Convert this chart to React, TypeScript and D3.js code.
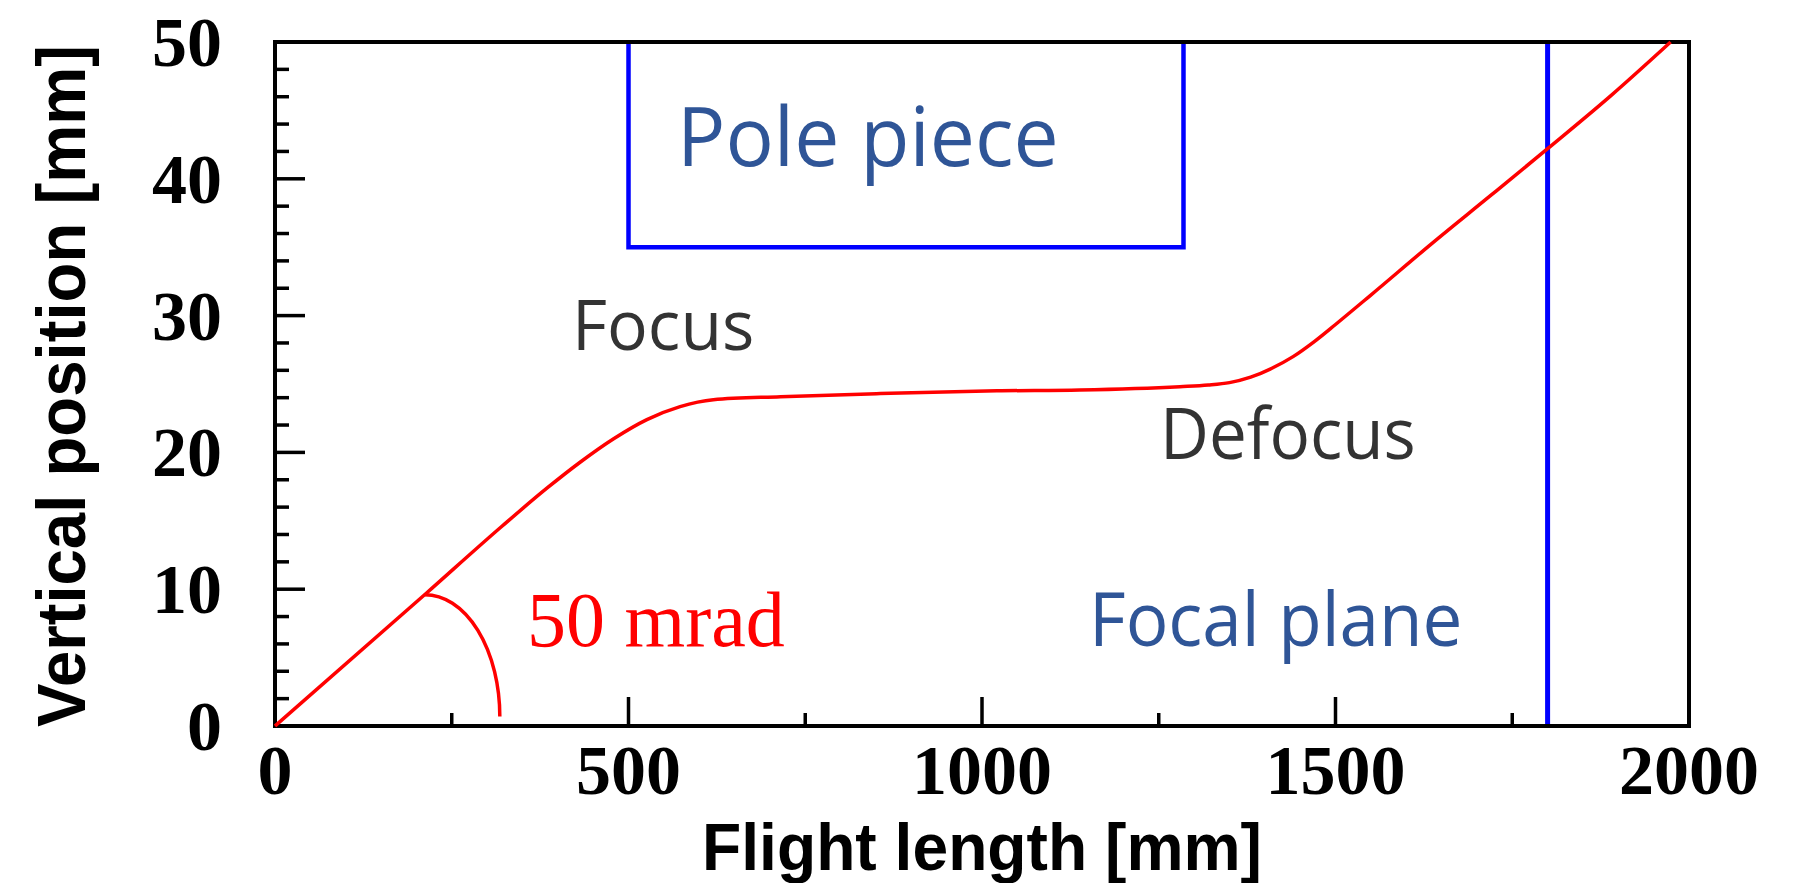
import React from "react";
import * as d3 from "d3";

// Beam trajectory through the pole piece: flight length [mm] vs vertical position [mm]
const flightLength = [0, 214, 321, 385, 432, 479, 526, 573, 620, 715, 856, 1021, 1138, 1280, 1320, 1350, 1380, 1410, 1440, 1470, 1500, 1550, 1637, 1720, 1800, 1890, 1974];
const verticalPos = [0, 9.7, 14.6, 17.4, 19.3, 21.0, 22.4, 23.35, 23.85, 24.07, 24.3, 24.5, 24.56, 24.8, 24.92, 25.1, 25.5, 26.15, 27.0, 28.1, 29.35, 31.5, 35.3, 38.8, 42.2, 46.1, 50.0];

// Pole piece outline [x0, x1] and its lower edge, focal plane position
const polePieceX = [500, 1285];
const polePieceBottom = 35;
const focalPlaneX = 1800;

// Angle marker: starts on the trajectory, ends just above the axis
const arcStart = [212, 9.6];
const arcEnd = [318, 0.7];

const xMajorTicks = [0, 500, 1000, 1500, 2000];
const xMinorTicks = [250, 750, 1250, 1750];
const yMajorTicks = [0, 10, 20, 30, 40, 50];
const yMinorTicks = [2, 4, 6, 8, 12, 14, 16, 18, 22, 24, 26, 28, 32, 34, 36, 38, 42, 44, 46, 48];

const W = 1803;
const H = 883;

export default function App() {
  const x = d3.scaleLinear().domain([0, 2000]).range([275, 1689]);
  const y = d3.scaleLinear().domain([0, 50]).range([726, 42]);

  const pts: [number, number][] = flightLength.map((v, i) => [v, verticalPos[i]]);
  const line = d3
    .line<[number, number]>()
    .x((d) => x(d[0]))
    .y((d) => y(d[1]))
    .curve(d3.curveMonotoneX);

  const ax0 = x(arcStart[0]);
  const ay0 = y(arcStart[1]);
  const ax1 = x(arcEnd[0]);
  const ay1 = y(arcEnd[1]);
  const arcPath = `M${ax0},${ay0} A${ax1 - ax0},${ay1 - ay0} 0 0 1 ${ax1},${ay1}`;

  const serif = "'Liberation Serif', 'Times New Roman', serif";
  const sans = "'Liberation Sans', Arial, sans-serif";
  const uiSans = "'Open Sans', 'Noto Sans', sans-serif";

  const x0 = x(0), x1 = x(2000), yTop = y(50), yBot = y(0);

  // annotation text, slightly narrowed horizontally
  const note = (label: string, tx: number, ty: number, size: number, sx: number, color: string) => (
    <text
      transform={`translate(${tx},${ty}) scale(${sx},1)`}
      fontFamily={uiSans}
      fontSize={size}
      fill={color}
    >
      {label}
    </text>
  );

  return (
    <svg width={W} height={H} style={{ position: "absolute", left: 0, top: 0, background: "#fff" }}>
      <rect x={0} y={0} width={W} height={H} fill="#fff" />

      {/* ticks: left and bottom only, pointing inward */}
      <g stroke="#000" strokeWidth={3.5}>
        {yMajorTicks.map((t) => (
          <line key={"ym" + t} x1={x0} x2={x0 + 30} y1={y(t)} y2={y(t)} />
        ))}
        {yMinorTicks.map((t) => (
          <line key={"yn" + t} x1={x0} x2={x0 + 14} y1={y(t)} y2={y(t)} />
        ))}
        {xMajorTicks.map((t) => (
          <line key={"xm" + t} x1={x(t)} x2={x(t)} y1={yBot} y2={yBot - 29} />
        ))}
        {xMinorTicks.map((t) => (
          <line key={"xn" + t} x1={x(t)} x2={x(t)} y1={yBot} y2={yBot - 13} />
        ))}
      </g>

      {/* pole piece */}
      <path
        d={`M${x(polePieceX[0])},${yTop} V${y(polePieceBottom)} H${x(polePieceX[1])} V${yTop}`}
        fill="none"
        stroke="#0000ff"
        strokeWidth={4.5}
      />

      {/* focal plane */}
      <line x1={x(focalPlaneX)} x2={x(focalPlaneX)} y1={yTop} y2={yBot} stroke="#0000ff" strokeWidth={5} />

      {/* frame */}
      <rect x={x0} y={yTop} width={x1 - x0} height={yBot - yTop} fill="none" stroke="#000" strokeWidth={4} />

      {/* trajectory */}
      <path d={line(pts) || ""} fill="none" stroke="#ff0000" strokeWidth={3.5} />
      <path d={arcPath} fill="none" stroke="#ff0000" strokeWidth={3.5} />

      {/* tick labels */}
      <g fontFamily={serif} fontWeight="bold" fontSize={70} fill="#000">
        {yMajorTicks.map((t) => (
          <text key={"yl" + t} x={222} y={y(t) + 24} textAnchor="end">
            {t}
          </text>
        ))}
        {xMajorTicks.map((t) => (
          <text key={"xl" + t} x={x(t)} y={794} textAnchor="middle">
            {t}
          </text>
        ))}
      </g>

      {/* axis titles */}
      <text
        x={982}
        y={870}
        textAnchor="middle"
        fontFamily={sans}
        fontWeight="bold"
        fontSize={67}
        textLength={560}
        lengthAdjust="spacingAndGlyphs"
      >
        Flight length [mm]
      </text>
      <text
        transform="translate(85,386) rotate(-90)"
        textAnchor="middle"
        fontFamily={sans}
        fontWeight="bold"
        fontSize={69}
        textLength={682}
        lengthAdjust="spacingAndGlyphs"
      >
        Vertical position [mm]
      </text>

      {/* annotations */}
      {note("Pole piece", 677, 166, 83, 0.97, "#2F5597")}
      {note("Focus", 572, 350, 70, 0.97, "#333333")}
      {note("Defocus", 1160, 459, 72, 0.936, "#333333")}
      {note("Focal plane", 1089, 646, 75, 0.947, "#2F5597")}
      <text x={527} y={646} fontFamily={serif} fontSize={78} fill="#ff0000">
        50 mrad
      </text>
    </svg>
  );
}
